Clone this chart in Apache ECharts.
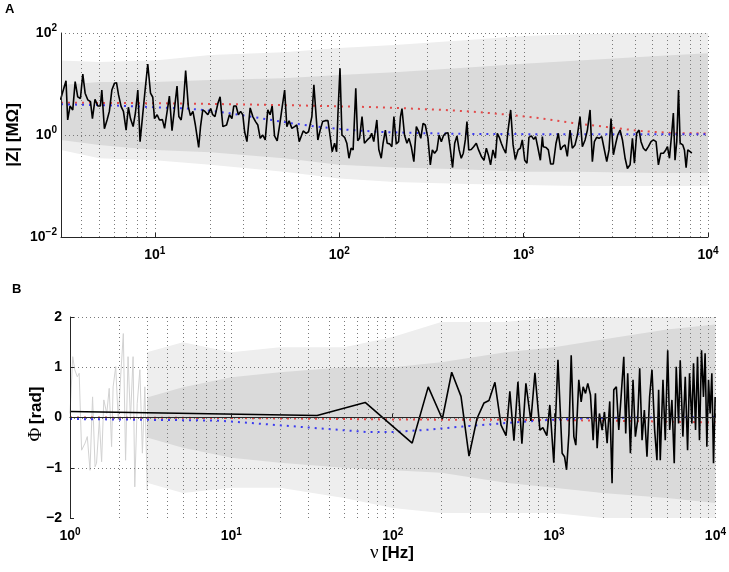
<!DOCTYPE html>
<html><head><meta charset="utf-8">
<script src="https://cdn.jsdelivr.net/npm/echarts@6/dist/echarts.min.js"></script>
<style>html,body{margin:0;padding:0;background:#fff}#c{width:729px;height:572px}</style>
</head><body><div id="c"></div>
<script>
// ---------- Panel A : |Z| (MOhm) vs frequency (Hz) ----------
const topBlackA = [[3.08,4.9],[3.30,11.6],[3.37,1.97],[3.47,3.7],[3.59,3.1],[3.70,11.1],[3.82,5.6],[3.95,5.2],[4.07,15.7],[4.19,6.6],[4.33,4.9],[4.48,4.5],[4.59,2.1],[4.74,5.0],[4.91,3.7],[5.07,3.7],[5.16,7.6],[5.33,1.33],[5.51,1.97],[5.67,2.9],[5.85,7.6],[6.04,10.3],[6.20,10.6],[6.36,6.1],[6.57,3.6],[6.76,2.9],[6.99,1.25],[7.19,3.5],[7.38,2.1],[7.63,1.46],[7.85,2.7],[8.09,7.6],[8.32,0.74],[8.58,2.3],[8.86,7.6],[9.16,24.7],[9.48,6.6],[9.75,5.5],[9.96,2.1],[10.3,2.5],[10.6,1.97],[11.0,2.0],[11.3,1.35],[11.7,3.1],[12.0,5.8],[12.4,1.22],[12.7,1.25],[13.2,9.1],[13.5,2.3],[13.9,1.97],[14.3,4.2],[14.7,18.3],[15.2,3.6],[15.6,2.4],[16.1,2.9],[16.6,1.57],[17.3,0.57],[17.7,1.46],[18.2,3.1],[18.7,2.9],[19.4,2.5],[20.1,3.3],[20.6,2.5],[21.2,2.3],[22.0,4.2],[22.6,5.6],[23.4,1.46]];
const topBlackB = [[24.5,1.57],[25.4,2.5],[26.2,2.1],[26.8,3.7],[27.6,3.7],[28.4,2.5],[29.2,2.9],[30.0,2.5],[30.7,1.16],[31.6,0.74],[32.9,3.4],[34.0,2.3],[35.2,1.83],[36.2,1.57],[37.3,0.86],[38.5,1.0],[39.7,0.80],[41.0,3.1],[42.2,2.5],[43.3,3.7],[44.6,0.96],[46.1,0.77],[47.7,1.69],[49.1,3.6],[50.6,7.6],[52.0,1.46],[53.5,1.91],[55.4,1.35],[57.3,1.46],[58.9,1.57],[60.7,0.74],[62.2,0.71],[63.8,1.2],[66.2,1.08],[68.2,1.16],[71.1,2.3],[72.9,9.6],[74.5,9.1],[76.6,0.80],[78.9,1.25],[81.3,1.83],[84.0,1.91],[86.9,1.91],[89.1,1.0],[91.6,0.47],[94.4,0.69],[96.8,0.47],[98.4,2.5],[101,20.3],[103.5,1.0],[107,0.90],[110,0.69],[113,0.35],[116,0.55],[119,0.51],[123,8.2],[126,0.77],[129,0.86],[133,2.3],[137,0.69],[142,0.80],[147,0.90],[150,1.08],[154,0.74],[160,1.97],[164,0.52],[169,0.35],[173,0.69]];
const topBlackC = [[178,1.25],[182,0.69],[188,0.67],[193,0.59],[198,2.3],[204,0.67],[210,0.74],[215,2.3],[219,3.3],[226,1.0],[233,0.69],[239,0.86],[246,0.59],[254,0.30],[262,1.46],[270,1.16],[277,0.86],[285,1.69],[293,1.57],[303,0.86],[312,0.26],[320,0.51],[329,0.44],[339,0.51],[348,1.0],[358,0.74],[367,0.96],[378,1.08],[389,1.11],[399,0.59],[412,0.23],[423,0.69],[435,0.96],[447,0.51],[459,0.35],[471,0.44],[483,0.80],[493,1.83],[504,0.51],[520,0.52],[536,0.59],[554,0.69],[570,0.51],[590,0.38],[610,0.32],[628,0.55],[646,0.39],[662,0.26],[682,0.51],[703,0.35],[720,1.08],[738,0.90],[757,0.69],[776,0.55],[800,0.44],[822,1.16],[851,3.1],[877,0.64],[902,0.33],[933,0.51],[960,0.55],[984,0.80],[1014,0.32],[1043,0.28],[1069,0.90],[1102,0.96],[1135,0.82],[1162,0.93],[1197,0.55],[1233,0.32],[1264,0.93]];
const topBlackD = [[1279,0.59],[1324,0.57],[1362,0.51],[1402,0.27],[1449,0.27],[1499,0.69],[1542,1.08],[1588,0.51],[1629,0.59],[1678,0.64],[1726,0.38],[1786,1.25],[1837,0.55],[1900,0.64],[1958,1.0],[2023,2.3],[2083,0.59],[2155,0.80],[2218,1.25],[2293,3.1],[2360,0.30],[2420,0.74],[2490,0.90],[2565,0.86],[2653,0.93],[2731,0.55],[2825,0.30],[2906,0.51],[2979,2.1],[3069,0.41],[3162,0.69],[3239,1.0],[3336,1.25],[3436,0.80],[3552,0.35],[3656,0.22],[3779,0.26],[3892,0.86],[3990,0.28],[4104,1.08],[4227,1.25],[4333,0.74],[4462,0.55],[4596,0.49],[4750,0.59],[4910,0.74],[5057,0.80],[5228,0.74],[5384,0.26],[5544,0.44],[5732,0.44],[5902,0.51],[6028,0.59],[6180,0.35],[6358,1.08],[6488,2.7],[6624,0.32],[6770,0.74],[6920,7.6],[7063,0.69],[7300,0.64],[7450,0.51],[7610,0.23],[7770,0.51],[8000,0.47],[8170,0.44]];
const topRed  = [[3.1,4.3],[10,4.2],[22,4.05],[60,3.8],[166,3.5],[375,3.09],[566,2.82],[855,2.47],[1200,2.15],[1850,1.72],[2840,1.43],[4290,1.20],[6460,1.09],[10000,1.07]];
const topBlue = [[3.1,4.0],[6,3.8],[10,3.5],[15,3.3],[20,3.0],[25,2.7],[37,2.15],[54,1.72],[79,1.43],[115,1.25],[167,1.15],[270,1.09],[500,1.05],[1000,1.04],[10000,1.03]];
const topGrayF        = [3.1, 5, 10, 20, 50, 100, 200, 500, 1000, 2000, 5000, 10000];
const topGrayOuterHi  = [29, 27, 29, 37, 42, 51, 58, 73, 87, 95, 100, 100];
const topGrayOuterLo  = [0.51, 0.35, 0.32, 0.26, 0.19, 0.14, 0.12, 0.11, 0.105, 0.10, 0.10, 0.10];
const topGrayCoreHi   = [9.6, 11, 11, 12, 13, 15, 17, 21, 25, 29, 35, 40];
const topGrayCoreLo   = [0.80, 0.64, 0.51, 0.46, 0.35, 0.26, 0.23, 0.21, 0.19, 0.19, 0.18, 0.18];

// ---------- Panel B : phase (rad) vs frequency (Hz) ----------
const botBlackA = [[1,0.12],[34,0.04],[67.5,0.30],[132,-0.51],[166,0.61],[203,-0.03],[232,0.90],[265,0.42],[297,-0.77],[333,-0.02],[368,0.29],[395,0.34],[430,0.70],[469,-0.15],[504,-0.36],[532,0.52],[564,-0.46],[597,0.71],[632,-0.52],[669,0.68],[718,-0.07],[761,0.89],[817,-0.25],[852,-0.2],[902,-0.36],[941,0.25],[968,0.25],[996,-0.9]];
const botBlackB = [[1057,1.15],[1122,-0.71],[1161,-0.78],[1195,-1.04],[1236,-0.32],[1277,1.24],[1326,-0.38],[1364,-0.55],[1423,0.75],[1472,0.31],[1514,0.61],[1566,0.48],[1618,0.68],[1681,0.45],[1746,-0.45],[1804,0.48],[1849,-0.61],[1910,0.08],[1985,-0.25],[2052,0.11],[2132,-0.51],[2213,0.32],[2288,-1.31],[2344,0.55],[2432,0.61],[2517,-0.25],[2602,0.41],[2704,1.21],[2780,-0.32],[2860,0.88],[2972,-0.71],[3085,0.75],[3190,-0.38],[3297,-0.05],[3393,0.98],[3510,-0.45],[3626,0.15],[3765,-0.78],[3909,0.41],[4044,0.95],[4200,-0.25],[4341,-0.85],[4446,0.55],[4550,-0.85],[4730,0.75],[4887,-0.45],[5060,1.34],[5205,-0.25],[5375,0.35],[5555,-0.91],[5716,1.01],[5910,-0.12],[6050,1.14],[6285,-0.38],[6500,0.81],[6720,-0.65],[6910,0.88],[7145,-0.12],[7315,1.08],[7530,-0.25],[7745,1.21],[7965,-0.45],[8200,1.34],[8430,0.41],[8630,1.28],[8850,-0.58],[9060,0.75],[9270,0.08],[9500,0.88],[9730,-0.91],[9960,0.41]];
const botRed  = [[1,0.0],[10,-0.01],[50,-0.03],[100,-0.04],[1000,-0.05],[3000,-0.07],[10000,-0.1]];
const botBlue = [[1,-0.03],[8,-0.06],[10,-0.08],[40,-0.23],[70,-0.29],[100,-0.29],[170,-0.24],[270,-0.18],[550,-0.1],[900,-0.05],[1700,-0.01],[3200,0.0],[10000,0.01]];
const botGrayLow = [[1.0,0.08],[1.04,1.21],[1.07,0.95],[1.11,0.81],[1.14,0.88],[1.18,-0.65],[1.24,-0.51],[1.28,-0.38],[1.33,-1.05],[1.38,0.41],[1.43,-0.98],[1.46,-0.91],[1.52,-0.05],[1.57,-0.88],[1.62,0.35],[1.69,0.08],[1.75,0.58],[1.81,-0.58],[1.85,0.61],[1.92,1.01],[1.99,-0.05],[2.06,0.81],[2.14,1.67],[2.21,-0.85],[2.29,1.21],[2.37,-0.05],[2.46,1.21],[2.52,-1.38],[2.61,0.28],[2.71,0.95],[2.81,-0.71],[2.91,0.61],[3.01,-1.44]];
const botGrayF        = [3, 5, 10, 20, 50, 100, 200, 500, 1000, 2000, 5000, 10000];
const botGrayOuterHi  = [1.3, 1.5, 1.3, 1.4, 1.4, 1.6, 1.9, 1.9, 2.0, 2.0, 2.0, 2.0];
const botGrayOuterLo  = [-1.3, -1.5, -1.4, -1.4, -1.6, -1.8, -1.9, -1.9, -1.9, -2.0, -2.0, -2.0];
const botGrayCoreHi   = [0.4, 0.6, 0.8, 0.9, 1.0, 1.0, 1.1, 1.3, 1.4, 1.55, 1.75, 1.85];
const botGrayCoreLo   = [-0.4, -0.6, -0.8, -0.9, -1.0, -1.05, -1.1, -1.3, -1.4, -1.5, -1.6, -1.7];

// ---------- grid-line tick positions ----------
const topVTicks = [4,5,6,7,8,9,10,20,30,40,50,60,70,80,90,100,200,300,400,500,600,700,800,900,1000,2000,3000,4000,5000,6000,7000,8000,9000,10000];
const botVTicks = [2,3,4,5,6,7,8,9,10,20,30,40,50,60,70,80,90,100,200,300,400,500,600,700,800,900,1000,2000,3000,4000,5000,6000,7000,8000,9000,10000];
const topHTicks = [1, 100];
const botHTicks = [-1, 0, 1, 2];

const FONT = '"Liberation Sans", Arial, Helvetica, sans-serif';
const SERIF = '"Liberation Serif", "DejaVu Serif", serif';
const AX = '#262626';

const richSup = {
  b: {fontFamily: FONT, fontWeight: 'bold', fontSize: 14, color: '#000'},
  s: {fontFamily: FONT, fontWeight: 'bold', fontSize: 10, color: '#000', padding: [0, 0, 9, 0]}
};
function powLabel(even) {
  return function (v) {
    const e = Math.log10(v), r = Math.round(e);
    if (Math.abs(e - r) > 1e-6) return '';
    if (even && r % 2 !== 0) return '';
    return '{b|10}{s|' + (r < 0 ? '\u2212' : '') + Math.abs(r) + '}';
  };
}

function band(xi, yi, freqs, lo, hi, color, z) {
  return {
    type: 'custom', xAxisIndex: xi, yAxisIndex: yi, z: z, silent: true,
    data: freqs.map((f, i) => [f, lo[i], hi[i]]),
    encode: {x: 0, y: [1, 2]},
    renderItem: function (params, api) {
      if (params.dataIndex !== 0) return null;
      const pts = [];
      for (let i = 0; i < freqs.length; i++) pts.push(api.coord([freqs[i], hi[i]]));
      for (let i = freqs.length - 1; i >= 0; i--) pts.push(api.coord([freqs[i], lo[i]]));
      return {type: 'polygon', shape: {points: pts}, style: {fill: color, stroke: null}};
    }
  };
}
function vGrid(xi, yi, ticks, y0, y1) {
  return {
    type: 'custom', xAxisIndex: xi, yAxisIndex: yi, z: 3, silent: true,
    data: ticks.map(t => [t, y0]), encode: {x: 0, y: 1},
    renderItem: function (params, api) {
      const t = ticks[params.dataIndex];
      const p0 = api.coord([t, y0]), p1 = api.coord([t, y1]);
      const x = Math.round(p0[0]) + 0.5;
      return {type: 'line', shape: {x1: x, y1: p0[1], x2: x, y2: p1[1]},
              style: {stroke: '#7a7a7a', lineWidth: 1, lineDash: [1, 3]}};
    }
  };
}
function hGrid(xi, yi, ticks, x0, x1) {
  return {
    type: 'custom', xAxisIndex: xi, yAxisIndex: yi, z: 3, silent: true,
    data: ticks.map(t => [x0, t]), encode: {x: 0, y: 1},
    renderItem: function (params, api) {
      const t = ticks[params.dataIndex];
      const p0 = api.coord([x0, t]), p1 = api.coord([x1, t]);
      const y = Math.round(p0[1]) + 0.5;
      return {type: 'line', shape: {x1: p0[0], y1: y, x2: p1[0], y2: y},
              style: {stroke: '#7a7a7a', lineWidth: 1, lineDash: [1, 3]}};
    }
  };
}
function line(xi, yi, data, color, width, dash, z) {
  return {
    type: 'line', xAxisIndex: xi, yAxisIndex: yi, data: data, z: z, silent: true,
    showSymbol: false, symbol: 'none', animation: false,
    lineStyle: {color: color, width: width, type: dash || 'solid'}
  };
}

const chart = echarts.init(document.getElementById('c'), null, {renderer: 'canvas'});
chart.setOption({
  animation: false,
  backgroundColor: '#fff',
  grid: [
    {left: 61, right: 21, top: 33, bottom: 335},
    {left: 70, right: 12, top: 317, bottom: 54}
  ],
  xAxis: [
    {type: 'log', logBase: 10, gridIndex: 0, min: 3.1, max: 10000, z: 10,
     axisLine: {lineStyle: {color: AX, width: 1}},
     axisTick: {inside: true, length: 4, lineStyle: {color: AX}},
     splitLine: {show: false},
     axisLabel: {margin: 9, formatter: powLabel(false), rich: richSup}},
    {type: 'log', logBase: 10, gridIndex: 1, min: 1, max: 10000, z: 10,
     axisLine: {lineStyle: {color: AX, width: 1}},
     axisTick: {inside: true, length: 4, lineStyle: {color: AX}},
     splitLine: {show: false},
     axisLabel: {margin: 9, formatter: powLabel(false), rich: richSup}}
  ],
  yAxis: [
    {type: 'log', logBase: 10, gridIndex: 0, min: 0.01, max: 100, z: 10,
     axisLine: {show: true, lineStyle: {color: AX, width: 1}},
     axisTick: {show: false},
     splitLine: {show: false},
     axisLabel: {margin: 4, formatter: powLabel(true), rich: richSup}},
    {type: 'value', gridIndex: 1, min: -2, max: 2, interval: 1, z: 10,
     axisLine: {show: true, lineStyle: {color: AX, width: 1}},
     axisTick: {inside: true, length: 4, lineStyle: {color: AX}},
     splitLine: {show: false},
     axisLabel: {margin: 8, fontFamily: FONT, fontWeight: 'bold', fontSize: 14, color: '#000',
                 formatter: v => String(v).replace('-', '\u2212')}}
  ],
  graphic: [
    {type: 'text', left: 5, top: 3, style: {text: 'A', font: 'bold 13px ' + FONT, fill: '#000'}},
    {type: 'text', left: 12, top: 283, style: {text: 'B', font: 'bold 13px ' + FONT, fill: '#000'}},
    {type: 'text', x: 13, y: 135, rotation: Math.PI / 2,
     style: {text: '|Z| [M\u03A9]', font: 'bold 17px ' + FONT, fill: '#000', align: 'center', verticalAlign: 'middle'}},
    {type: 'text', x: 36, y: 414, rotation: Math.PI / 2,
     style: {text: '{p|\u03A6} {b|[rad]}', align: 'center', verticalAlign: 'middle',
             rich: {p: {fontFamily: SERIF, fontSize: 19, color: '#000'},
                    b: {fontFamily: FONT, fontWeight: 'bold', fontSize: 17, color: '#000'}}}},
    {type: 'text', x: 392, y: 553,
     style: {text: '{p|\u03BD} {b|[Hz]}', align: 'center', verticalAlign: 'middle',
             rich: {p: {fontFamily: SERIF, fontSize: 19, color: '#000'},
                    b: {fontFamily: FONT, fontWeight: 'bold', fontSize: 17, color: '#000'}}}}
  ],
  series: [
    band(0, 0, topGrayF, topGrayOuterLo, topGrayOuterHi, '#eeeeee', 1),
    band(0, 0, topGrayF, topGrayCoreLo, topGrayCoreHi, '#dadada', 2),
    vGrid(0, 0, topVTicks, 0.01, 100),
    hGrid(0, 0, topHTicks, 3.1, 10000),
    line(0, 0, topRed, '#e24a4a', 2, [2, 5], 4),
    line(0, 0, topBlue, '#3b3bef', 2, [2, 5], 4),
    line(0, 0, topBlackA.concat(topBlackB, topBlackC, topBlackD), '#000', 1.6, null, 5),

    line(1, 1, botGrayLow, '#d2d2d2', 1, null, 1),
    band(1, 1, botGrayF, botGrayOuterLo, botGrayOuterHi, '#eeeeee', 1),
    band(1, 1, botGrayF, botGrayCoreLo, botGrayCoreHi, '#dadada', 2),
    vGrid(1, 1, botVTicks, -2, 2),
    hGrid(1, 1, botHTicks, 1, 10000),
    line(1, 1, botRed, '#e24a4a', 2, [2, 5], 4),
    line(1, 1, botBlue, '#3b3bef', 2, [2, 5], 4),
    line(1, 1, botBlackA.concat(botBlackB), '#000', 1.6, null, 5)
  ]
});
</script>
</body></html>
